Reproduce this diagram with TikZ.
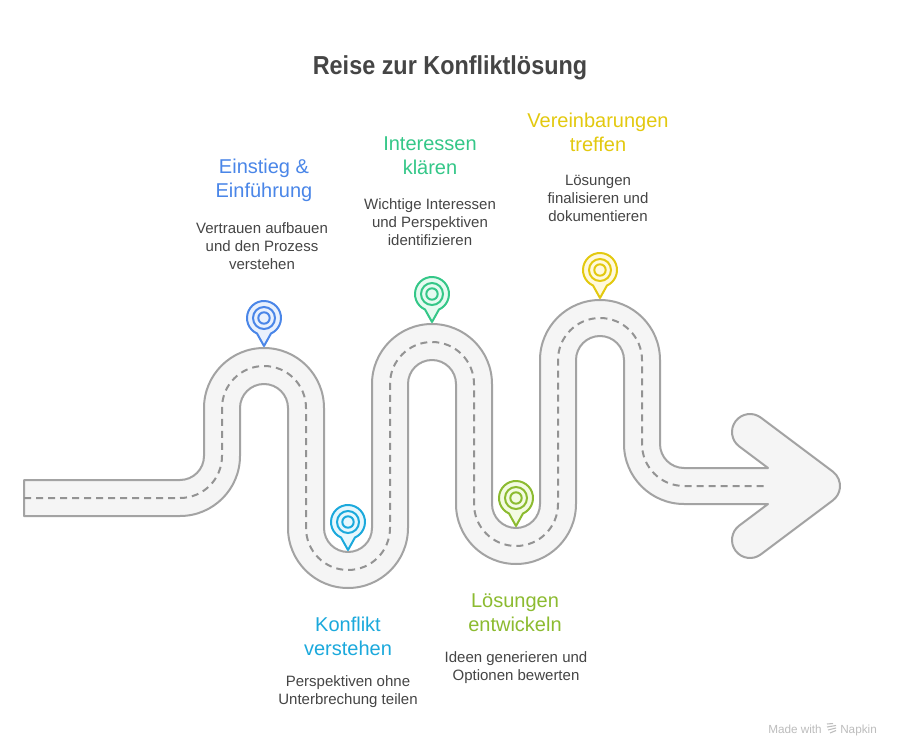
\documentclass[tikz,border=0pt]{standalone}
\usepackage{fontspec}
\setmainfont{Liberation Sans}
\newfontfamily\titlefont[FakeStretch=0.9]{Liberation Sans}
\definecolor{roadline}{HTML}{A3A3A3}
\definecolor{roadfill}{HTML}{F5F5F5}
\definecolor{cblue}{HTML}{4A86E8}\definecolor{fblue}{HTML}{E9F1FD}
\definecolor{ccyan}{HTML}{1BA9DC}\definecolor{fcyan}{HTML}{E7F7FD}
\definecolor{cgreen}{HTML}{34C788}\definecolor{fgreen}{HTML}{E6FBF1}
\definecolor{clime}{HTML}{8CBB30}\definecolor{flime}{HTML}{F3FBE2}
\definecolor{cyell}{HTML}{E3C90F}\definecolor{fyell}{HTML}{FFF9DC}
\definecolor{ink}{HTML}{454545}
\definecolor{brandgrey}{HTML}{BDBDBD}
\tikzset{
  road/.style={draw=roadline,fill=roadfill,line width=1.5pt,line join=round},
  lane/.style={draw=roadline!90!black,line width=1.5pt,dash pattern=on 5.25pt off 3.75pt},
  headtext/.style={inner sep=0pt,align=center,font=\fontsize{15}{18}\selectfont},
  desctext/.style={inner sep=0pt,align=center,text=ink,font=\fontsize{11.25}{13.5}\selectfont},
  titletext/.style={inner sep=0pt,text=ink,font=\titlefont\bfseries\fontsize{19.5}{24}\selectfont},
  marktext/.style={inner sep=0pt,text=brandgrey,font=\fontsize{8.8}{10}\selectfont},
  pinring/.style={line width=1.5pt}
}
\newcommand{\roadpin}[4]{%
  \draw[pinring,draw=#3,fill=#4,line join=round] (#1,#2+28) -- (#1-7,#2+15.5)
     arc[start angle=114.3,end angle=425.7,radius=17] -- cycle;
  \draw[pinring,draw=#3] (#1,#2) circle[radius=11];
  \draw[pinring,draw=#3] (#1,#2) circle[radius=5.7];
}
\begin{document}
\begin{tikzpicture}[x=0.75pt,y=-0.75pt]
\useasboundingbox[fill=white] (0,0) rectangle (900,756);
% road
\path[road] (24,480) -- (180,480) arc[start angle=90,end angle=0,radius=24]
 -- (204,408) arc[start angle=180,end angle=360,radius=60]
 -- (324,528) arc[start angle=180,end angle=0,radius=24]
 -- (372,384) arc[start angle=180,end angle=360,radius=60]
 -- (492,504) arc[start angle=180,end angle=0,radius=24]
 -- (540,360) arc[start angle=180,end angle=360,radius=60]
 -- (660,444) arc[start angle=180,end angle=90,radius=24]
 -- (768,468) -- (739.2,446.4) arc[start angle=126.87,end angle=306.87,radius=18]
 -- (832.8,471.6) arc[start angle=306.87,end angle=413.13,radius=18]
 -- (760.8,554.4) arc[start angle=53.13,end angle=233.13,radius=18]
 -- (768,504) -- (684,504) arc[start angle=90,end angle=180,radius=60]
 -- (624,360) arc[start angle=0,end angle=-180,radius=24]
 -- (576,504) arc[start angle=0,end angle=180,radius=60]
 -- (456,384) arc[start angle=0,end angle=-180,radius=24]
 -- (408,528) arc[start angle=0,end angle=180,radius=60]
 -- (288,408) arc[start angle=0,end angle=-180,radius=24]
 -- (240,456) arc[start angle=0,end angle=90,radius=60]
 -- (24,516) -- cycle;
\path[lane] (24,498) -- (180,498) arc[start angle=90,end angle=0,radius=42]
 -- (222,408) arc[start angle=180,end angle=360,radius=42]
 -- (306,528) arc[start angle=180,end angle=0,radius=42]
 -- (390,384) arc[start angle=180,end angle=360,radius=42]
 -- (474,504) arc[start angle=180,end angle=0,radius=42]
 -- (558,360) arc[start angle=180,end angle=360,radius=42]
 -- (642,444) arc[start angle=180,end angle=90,radius=42]
 -- (765,486);
% pins
\roadpin{264}{318}{cblue}{fblue}
\roadpin{348}{522}{ccyan}{fcyan}
\roadpin{432}{294}{cgreen}{fgreen}
\roadpin{516}{498}{clime}{flime}
\roadpin{600}{270}{cyell}{fyell}
% texts
\node[titletext] (title) at (450,68) {Reise zur Konfliktlösung};
\node[headtext,text=cblue] (h1) at (264,180.5) {Einstieg \&\\Einführung};
\node[desctext] (d1) at (262,246) {Vertrauen aufbauen\\und den Prozess\\verstehen};
\node[headtext,text=ccyan] (h2) at (348,636) {Konflikt\\verstehen};
\node[desctext] (d2) at (348,691.5) {Perspektiven ohne\\Unterbrechung teilen};
\node[headtext,text=cgreen] (h3) at (430,156) {Interessen\\klären};
\node[desctext] (d3) at (430,222) {Wichtige Interessen\\und Perspektiven\\identifizieren};
\node[headtext,text=clime] (h4) at (515,612.5) {Lösungen\\entwickeln};
\node[desctext] (d4) at (516,667.5) {Ideen generieren und\\Optionen bewerten};
\node[headtext,text=cyell] (h5) at (598,132) {Vereinbarungen\\treffen};
\node[desctext] (d5) at (598,198) {Lösungen\\finalisieren und\\dokumentieren};
% brand
\node[marktext,anchor=base west] (made) at (768,733) {Made with};
\node[marktext,anchor=base west] (napkin) at (840,733) {Napkin};
\draw[brandgrey,line width=0.8pt] (827,724) -- (833,723.5) (827,727) -- (836,725.5) (828,730) -- (836,728) (830,733) -- (836,730.5);
\end{tikzpicture}
\end{document}
